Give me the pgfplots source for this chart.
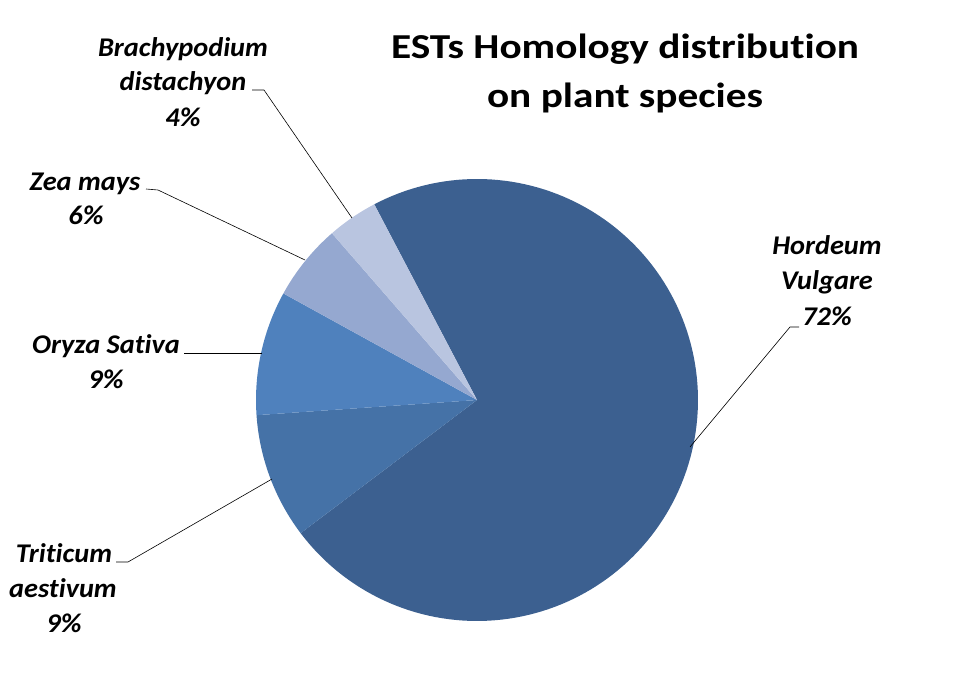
\documentclass[border=0pt]{standalone}
\usepackage{pgfplots}
\pgfplotsset{compat=1.18}
\usepackage{pgfplotstable}
\usepackage{graphicx}
\usepackage{fontspec}
\setmainfont{Carlito}[Ligatures={NoCommon,NoContextual}]

\definecolor{cH}{RGB}{60,96,144}
\definecolor{cT}{RGB}{69,114,167}
\definecolor{cO}{RGB}{79,129,189}
\definecolor{cZ}{RGB}{149,168,208}
\definecolor{cB}{RGB}{185,197,224}

\pgfplotstableread{
species value
Hordeum 72.4
Triticum 9.2
Oryza 9.1
Zea 5.6
Brachypodium 3.7
}\piedata

\newcommand\getv[2]{\pgfplotstablegetelem{#1}{value}\of\piedata\edef#2{\pgfplotsretval}}
\getv{0}\vH
\getv{1}\vT
\getv{2}\vO
\getv{3}\vZ
\getv{4}\vB
\pgfmathsetmacro\aH{477.7}
\pgfmathsetmacro\aT{\aH-3.6*\vH}
\pgfmathsetmacro\aO{\aT-3.6*\vT}
\pgfmathsetmacro\aZ{\aO-3.6*\vO}
\pgfmathsetmacro\aB{\aZ-3.6*\vZ}
\pgfmathsetmacro\aE{\aB-3.6*\vB}

\newcommand\lbl{\fontsize{27}{32}\selectfont\bfseries\itshape}
\newcommand\ttl{\fontsize{35}{40}\selectfont\bfseries}
\newcommand\LB[1]{\scalebox{1.05}[1]{#1}}
\newcommand\TT[1]{\scalebox{1.18}[1]{#1}}

\begin{document}
\begin{tikzpicture}
\begin{axis}[width=954pt, height=677pt, scale only axis,
  xmin=0, xmax=954, ymin=0, ymax=677, hide axis, clip=false]
\path (rel axis cs:0,0) rectangle (rel axis cs:1,1);
% slices
\addplot[fill=cH, draw=none, domain=\aT:\aH, samples=150, variable=\t]
  ({477+221*cos(\t)},{277+221*sin(\t)}) -- (axis cs:477,277) -- cycle;
\addplot[fill=cT, draw=none, domain=\aO:\aT, samples=40, variable=\t]
  ({477+221*cos(\t)},{277+221*sin(\t)}) -- (axis cs:477,277) -- cycle;
\addplot[fill=cO, draw=none, domain=\aZ:\aO, samples=40, variable=\t]
  ({477+221*cos(\t)},{277+221*sin(\t)}) -- (axis cs:477,277) -- cycle;
\addplot[fill=cZ, draw=none, domain=\aB:\aZ, samples=30, variable=\t]
  ({477+221*cos(\t)},{277+221*sin(\t)}) -- (axis cs:477,277) -- cycle;
\addplot[fill=cB, draw=none, domain=\aE:\aB, samples=30, variable=\t]
  ({477+221*cos(\t)},{277+221*sin(\t)}) -- (axis cs:477,277) -- cycle;
% leader lines
\addplot[black, line width=0.6pt] coordinates {(690,230) (790,350) (799,350)};
\addplot[black, line width=0.6pt] coordinates {(252,587) (264,587) (352,459)};
\addplot[black, line width=0.6pt] coordinates {(146,488) (158,487) (305,417)};
\addplot[black, line width=0.6pt] coordinates {(184,324) (262,324)};
\addplot[black, line width=0.6pt] coordinates {(116,115) (128,115) (272,198)};
% title
\node[anchor=base, font=\ttl] at (axis cs:625,618) {\TT{ESTs Homology distribution}};
\node[anchor=base, font=\ttl] at (axis cs:625,569) {\TT{on plant species}};
% labels
\node[anchor=base, font=\lbl] at (axis cs:183,620) {\LB{Brachypodium}};
\node[anchor=base, font=\lbl] at (axis cs:183,586) {\LB{distachyon}};
\node[anchor=base, font=\lbl] at (axis cs:183,550) {\LB{4\%}};
\node[anchor=base, font=\lbl] at (axis cs:85,486) {\LB{Zea mays}};
\node[anchor=base, font=\lbl] at (axis cs:86,452) {\LB{6\%}};
\node[anchor=base, font=\lbl] at (axis cs:106,323) {\LB{Oryza Sativa}};
\node[anchor=base, font=\lbl] at (axis cs:106,288) {\LB{9\%}};
\node[anchor=base, font=\lbl] at (axis cs:64,114) {\LB{Triticum}};
\node[anchor=base, font=\lbl] at (axis cs:63,79) {\LB{aestivum}};
\node[anchor=base, font=\lbl] at (axis cs:64,44) {\LB{9\%}};
\node[anchor=base, font=\lbl] at (axis cs:827,422) {\LB{Hordeum}};
\node[anchor=base, font=\lbl] at (axis cs:827,387) {\LB{Vulgare}};
\node[anchor=base, font=\lbl] at (axis cs:827,351) {\LB{72\%}};
\end{axis}
\end{tikzpicture}
\end{document}
